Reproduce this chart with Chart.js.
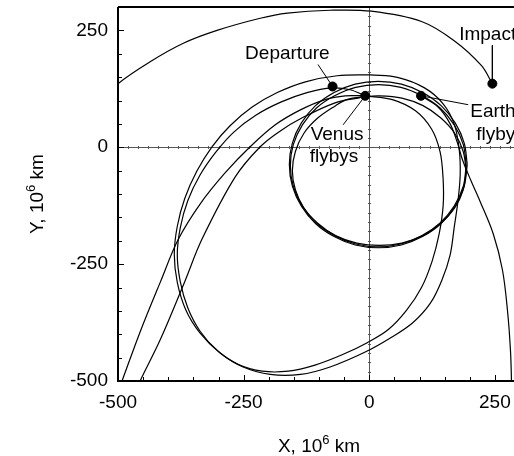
<!DOCTYPE html>
<html>
<head>
<meta charset="utf-8">
<script src="https://cdn.jsdelivr.net/npm/chart.js@4.4.0/dist/chart.umd.min.js"></script>
<style>
html, body { margin:0; padding:0; background:#fff; overflow:hidden; }
#wrap { width:530px; height:456px; }
</style>
</head>
<body>
<div id="wrap"><canvas id="chart" width="530" height="456"></canvas></div>
<script>
// axis ticks (10^6 km)
const xTickValues = [-500, -250, 0, 250];
const yTickValues = [-500, -250, 0, 250];

// trajectory arcs, [x, y] in 10^6 km
const smallLoop1 = [[195,-37],[189,9],[171,52],[143,89],[106,117],[64,135],[18,141],[-28,135],[-70,117],[-107,89],[-135,52],[-153,9],[-159,-37],[-153,-83],[-135,-126],[-107,-163],[-70,-191],[-28,-209],[18,-215],[64,-209],[106,-191],[143,-163],[171,-126],[189,-83],[195,-37]];
const smallLoop2 = [[193,-39],[187,6],[169,48],[141,84],[105,110],[63,128],[18,134],[-27,128],[-69,110],[-105,84],[-133,48],[-151,6],[-157,-39],[-151,-84],[-133,-126],[-105,-162],[-69,-189],[-27,-207],[18,-213],[63,-207],[105,-189],[141,-162],[169,-126],[187,-84],[193,-39]];
const smallLoop3 = [[193,-50],[187,-9],[170,30],[142,63],[107,89],[65,105],[20,110],[-8,108],[-45,102],[-67,89],[-102,63],[-130,30],[-147,-9],[-153,-50],[-147,-91],[-130,-130],[-102,-163],[-67,-189],[-25,-205],[20,-210],[65,-205],[107,-189],[142,-163],[170,-130],[187,-91],[193,-50]];
const bigLoopA = [[-8,110],[46,102],[92,78],[124,39],[141,-10],[147,-68],[147,-126],[139,-186],[125,-244],[104,-300],[74,-349],[38,-390],[-4,-418],[-54,-444],[-108,-466],[-161,-479],[-213,-479],[-261,-464],[-303,-434],[-337,-393],[-361,-344],[-376,-288],[-382,-230],[-376,-172],[-361,-114],[-337,-60],[-305,-10],[-269,33],[-225,69],[-175,97],[-124,117],[-74,127],[-38,123],[-8,110]];
const bigLoopB = [[2,155],[58,149],[110,127],[147,93],[169,50],[179,-4],[181,-57],[177,-111],[169,-172],[161,-230],[145,-283],[122,-333],[86,-376],[42,-408],[-8,-438],[-78,-470],[-137,-486],[-197,-486],[-251,-470],[-297,-440],[-337,-397],[-365,-348],[-382,-289],[-388,-229],[-382,-169],[-367,-109],[-343,-51],[-313,1],[-277,46],[-233,86],[-183,117],[-127,140],[-64,153],[2,155]];
const cornerArc1 = [[-8,110],[-48,110],[-88,102],[-137,80],[-187,48],[-237,1],[-287,-55],[-337,-122],[-380,-197],[-416,-289],[-456,-395],[-492,-500],[-506,-541]];
const cornerArc2 = [[-18,106],[-68,95],[-137,61],[-177,35],[-217,1],[-267,-64],[-333,-197],[-367,-287],[-416,-412],[-456,-500],[-470,-537]];
const outboundArc = [[103,110],[137,86],[161,50],[175,11],[185,-25],[201,-68],[221,-117],[247,-186],[265,-262],[275,-348],[281,-434],[283,-500],[283,-541]];
const impactArc = [[-510,118],[-500,136],[-436,183],[-371,222],[-303,250],[-217,276],[-163,287],[-78,293],[4,291],[104,269],[169,228],[223,175],[245,136]];

// event markers
const eventPoints = [[-73,130],[-8,110],[103,110],[245,136]];
const leaderLines = [
  [[-102,177],[-73,130]],
  [[-52,48],[-8,110]],
  [[197,91],[103,110]],
  [[245,218],[245,136]]
];
// label text, anchor [x, y] in data units, alignment
const labelTexts = [
  {text:'Departure', at:[-163,200], align:'center'},
  {text:'Venus', at:[-64,26], align:'center'},
  {text:'flybys', at:[-70,-21], align:'center'},
  {text:'Earth', at:[201,76], align:'left'},
  {text:'flyby', at:[213,26], align:'left'},
  {text:'Impact', at:[179,241], align:'left'}
];

const FONT = '"Liberation Sans", Arial, sans-serif';
const toXY = arr => arr.map(p => ({x: p[0], y: p[1]}));

function arcSet(arr) {
  return {
    data: toXY(arr), showLine: true, borderColor: '#000', borderWidth: 1.2,
    pointRadius: 0, tension: 0.35, fill: false
  };
}

const datasets = [smallLoop1, smallLoop2, smallLoop3, bigLoopA, bigLoopB, cornerArc1, cornerArc2, outboundArc, impactArc].map(arcSet);
leaderLines.forEach(l => datasets.push({
  data: toXY(l), showLine: true, borderColor: '#000', borderWidth: 1,
  pointRadius: 0, tension: 0
}));
datasets.push({
  data: toXY(eventPoints), showLine: false, pointRadius: 4.5,
  pointBackgroundColor: '#000', pointBorderColor: '#000'
});

const framePlugin = {
  id: 'frame',
  beforeDatasetsDraw(chart) {
    const {ctx, chartArea: a, scales: {x, y}} = chart;
    ctx.save();
    // zero lines with little ticks
    ctx.strokeStyle = '#555';
    ctx.lineWidth = 1;
    const x0 = Math.round(x.getPixelForValue(0)) + 0.5;
    const y0 = Math.round(y.getPixelForValue(0)) + 0.5;
    ctx.beginPath();
    ctx.moveTo(x0, a.top); ctx.lineTo(x0, a.bottom);
    ctx.moveTo(a.left, y0); ctx.lineTo(a.right, y0);
    for (let v = -500; v <= 300; v += 20) {
      const px = Math.round(x.getPixelForValue(v)) + 0.5;
      ctx.moveTo(px, y0 - 1.5); ctx.lineTo(px, y0 + 1.5);
      const py = Math.round(y.getPixelForValue(v)) + 0.5;
      ctx.moveTo(x0 - 1.5, py); ctx.lineTo(x0 + 1.5, py);
    }
    ctx.stroke();
    ctx.restore();
  },
  afterDraw(chart) {
    const {ctx, chartArea: a, scales: {x, y}} = chart;
    ctx.save();
    ctx.strokeStyle = '#000';
    // inward ticks every 50
    ctx.lineWidth = 1;
    ctx.beginPath();
    for (let v = -450; v <= 300; v += 50) {
      const len = v % 250 === 0 ? 6 : 4;
      const px = Math.round(x.getPixelForValue(v)) + 0.5;
      ctx.moveTo(px, a.bottom); ctx.lineTo(px, a.bottom - len);
      const py = Math.round(y.getPixelForValue(v)) + 0.5;
      if (py > a.top + 2) { ctx.moveTo(a.left, py); ctx.lineTo(a.left + len, py); }
    }
    ctx.stroke();
    // frame
    ctx.lineWidth = 2;
    ctx.beginPath();
    ctx.moveTo(a.left, a.top); ctx.lineTo(a.right + 2, a.top);
    ctx.moveTo(a.left, a.top); ctx.lineTo(a.left, a.bottom);
    ctx.moveTo(a.left - 1, a.bottom); ctx.lineTo(a.right + 2, a.bottom);
    ctx.stroke();

    // event labels
    ctx.fillStyle = '#000';
    ctx.font = '19px ' + FONT;
    ctx.textBaseline = 'middle';
    labelTexts.forEach(l => {
      ctx.textAlign = l.align;
      ctx.fillText(l.text, x.getPixelForValue(l.at[0]), y.getPixelForValue(l.at[1]));
    });

    // axis titles with superscript
    const drawTitle = (pre, sup, post, cx, cy, rot) => {
      ctx.save();
      ctx.translate(cx, cy);
      ctx.rotate(rot);
      ctx.textAlign = 'left';
      ctx.textBaseline = 'alphabetic';
      ctx.font = '19px ' + FONT;
      const w1 = ctx.measureText(pre).width;
      const w3 = ctx.measureText(post).width;
      ctx.font = '13px ' + FONT;
      const w2 = ctx.measureText(sup).width;
      const start = -(w1 + w2 + w3) / 2;
      ctx.font = '19px ' + FONT;
      ctx.fillText(pre, start, 7);
      ctx.font = '13px ' + FONT;
      ctx.fillText(sup, start + w1, -1);
      ctx.font = '19px ' + FONT;
      ctx.fillText(post, start + w1 + w2, 7);
      ctx.restore();
    };
    drawTitle('X, 10', '6', ' km', (a.left + a.right) / 2, 445, 0);
    drawTitle('Y, 10', '6', ' km', 36, (a.top + a.bottom) / 2, -Math.PI / 2);
    ctx.restore();
  }
};

const ctx = document.getElementById('chart').getContext('2d');
new Chart(ctx, {
  type: 'scatter',
  data: { datasets },
  options: {
    responsive: false,
    animation: false,
    devicePixelRatio: 1,
    layout: { padding: { left: 0, right: 10, top: 7, bottom: 0 } },
    plugins: { legend: { display: false }, tooltip: { enabled: false } },
    scales: {
      x: {
        type: 'linear', min: -500, max: 300,
        afterBuildTicks: s => { s.ticks = xTickValues.map(v => ({value: v})); },
        afterFit: s => { s.height = 75; s.paddingLeft = 0; s.paddingRight = 0; },
        grid: { display: false, drawTicks: false },
        border: { display: false },
        ticks: { color: '#000', padding: 10, font: { size: 19, family: FONT }, maxRotation: 0 }
      },
      y: {
        type: 'linear', min: -500, max: 300,
        afterBuildTicks: s => { s.ticks = yTickValues.map(v => ({value: v})); },
        afterFit: s => { s.width = 118; s.paddingTop = 0; s.paddingBottom = 0; },
        grid: { display: false, drawTicks: false },
        border: { display: false },
        ticks: { color: '#000', padding: 10, font: { size: 19, family: FONT } }
      }
    }
  },
  plugins: [framePlugin]
});
</script>
</body>
</html>
